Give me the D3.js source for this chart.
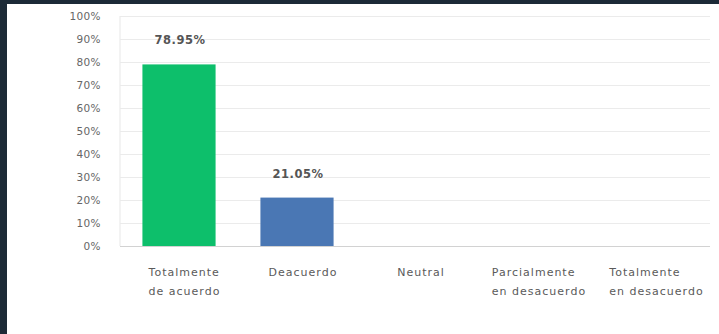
<!DOCTYPE html>
<html>
<head>
<meta charset="utf-8">
<script src="https://cdn.jsdelivr.net/npm/d3@7"></script>
<style>
  html, body { margin: 0; padding: 0; background: #ffffff; }
  svg { display: block; }
  text { font-family: "DejaVu Sans", sans-serif; }
</style>
</head>
<body>
<svg id="chart" width="719" height="334"></svg>
<script>
// Survey responses: share of answers per option
const categories = [
  ["Totalmente", "de acuerdo"],
  ["Deacuerdo"],
  ["Neutral"],
  ["Parcialmente", "en desacuerdo"],
  ["Totalmente", "en desacuerdo"]
];
const values = [78.95, 21.05, 0, 0, 0];
const barColors = ["#0dbf6b", "#4a77b4", "#0dbf6b", "#0dbf6b", "#0dbf6b"];
const yTicks = [0, 10, 20, 30, 40, 50, 60, 70, 80, 90, 100];

const W = 719, H = 334;
const margin = { left: 120, right: 9, top: 16, bottom: 88 };

const svg = d3.select("#chart");

// dark frame around the panel
svg.append("rect").attr("x", 0).attr("y", 0).attr("width", W).attr("height", H).attr("fill", "#1c2a37");
svg.append("rect").attr("x", 7).attr("y", 4).attr("width", W - 7).attr("height", H - 4).attr("fill", "#ffffff");

const keys = categories.map((c, i) => "c" + i);

const x = d3.scaleBand()
  .domain(keys)
  .range([margin.left, W - margin.right])
  .paddingInner(0.38)
  .paddingOuter(0.19);

const y = d3.scaleLinear()
  .domain([0, 100])
  .range([H - margin.bottom, margin.top]);

// horizontal gridlines
const grid = d3.axisLeft(y)
  .tickValues(yTicks)
  .tickSize(-(W - margin.right - margin.left))
  .tickFormat("");
const gg = svg.append("g")
  .attr("transform", `translate(${margin.left},0)`)
  .call(grid);
gg.select(".domain").remove();
gg.selectAll(".tick line")
  .attr("stroke", d => d === 0 ? "#d2d2d2" : "#ebebeb")
  .attr("stroke-width", 1.2);

// vertical axis line
svg.append("line")
  .attr("x1", margin.left).attr("x2", margin.left)
  .attr("y1", y(100)).attr("y2", y(0))
  .attr("stroke", "#ebebeb").attr("stroke-width", 1.2);

// y tick labels
const ya = svg.append("g")
  .attr("transform", `translate(101,0)`)
  .call(d3.axisLeft(y).tickValues(yTicks).tickSize(0).tickPadding(0).tickFormat(d => d + "%"));
ya.select(".domain").remove();
ya.selectAll("text")
  .attr("fill", "#666666")
  .style("font-size", "10.5px")
  .style("font-family", "DejaVu Sans, sans-serif")
  .style("letter-spacing", "0.4px");

// bars
svg.append("g").selectAll("rect")
  .data(values)
  .join("rect")
  .attr("x", (d, i) => x(keys[i]))
  .attr("width", x.bandwidth())
  .attr("y", d => y(d))
  .attr("height", d => y(0) - y(d))
  .attr("fill", (d, i) => barColors[i]);

// value labels above non-empty bars
svg.append("g").selectAll("text")
  .data(values.map((v, i) => ({ v, i })).filter(d => d.v > 0))
  .join("text")
  .attr("x", d => x(keys[d.i]) + x.bandwidth() / 2 + 1)
  .attr("y", d => y(d.v) - 20)
  .attr("text-anchor", "middle")
  .attr("fill", "#555555")
  .style("font-size", "11.5px")
  .style("font-weight", "600")
  .style("letter-spacing", "0.5px")
  .text(d => d.v.toFixed(2) + "%");

// category labels: block centred under band, lines left-aligned
const catG = svg.append("g");
categories.forEach((lines, i) => {
  const t = catG.append("text")
    .attr("fill", "#5a5a5a")
    .style("font-size", "11px")
    .style("letter-spacing", "1px");
  lines.forEach((ln, j) => {
    t.append("tspan").attr("x", 0).attr("y", 276 + j * 19).text(ln);
  });
  const w = t.node().getBBox().width;
  const cx = x(keys[i]) + x.bandwidth() / 2 + 6;
  t.attr("transform", `translate(${cx - w / 2},0)`);
});
</script>
</body>
</html>
